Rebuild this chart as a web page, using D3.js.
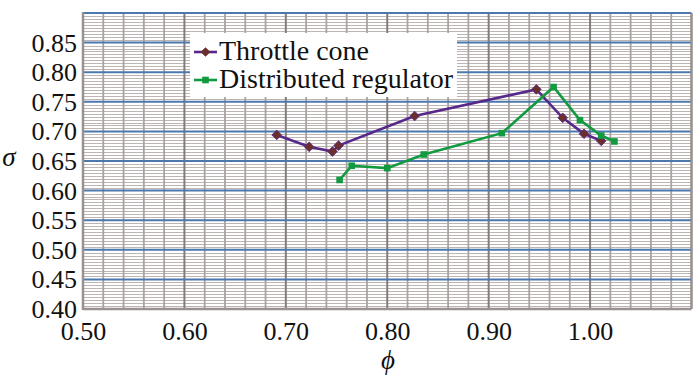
<!DOCTYPE html>
<html>
<head>
<meta charset="utf-8">
<script src="https://cdn.jsdelivr.net/npm/d3@7"></script>
<style>
  html, body { margin: 0; padding: 0; background: #fff; }
  svg { display: block; }
  svg text { font-family: "Liberation Serif", "Tinos", "Times New Roman", Times, "Nimbus Roman", "Nimbus Roman No9 L", "FreeSerif", "Noto Serif", "DejaVu Serif", serif; }
</style>
</head>
<body>
<svg id="chart" width="700" height="380"></svg>
<script>
// ---- data ----
const seriesNames = ["Throttle cone", "Distributed regulator"];
const phiThrottle   = [0.691, 0.723, 0.746, 0.752, 0.827, 0.947, 0.973, 0.994, 1.011];
const sigmaThrottle = [0.694, 0.674, 0.666, 0.676, 0.726, 0.771, 0.723, 0.696, 0.684];
const phiRegulator   = [0.753, 0.765, 0.800, 0.836, 0.913, 0.964, 0.990, 1.011, 1.024];
const sigmaRegulator = [0.618, 0.642, 0.638, 0.661, 0.697, 0.775, 0.719, 0.693, 0.683];
const xTicks = [0.50, 0.60, 0.70, 0.80, 0.90, 1.00];
const yTicks = [0.40, 0.45, 0.50, 0.55, 0.60, 0.65, 0.70, 0.75, 0.80, 0.85];

const svg = d3.select("#chart");
const L = 83, R = 691.5, T = 13, B = 309;
const x = d3.scaleLinear().domain([0.5, 1.1]).range([L, R]);
const y = d3.scaleLinear().domain([0.4, 0.9]).range([B, T]);

// ---- grid ----
const g = svg.append("g");
const hMinor = d3.range(0, 101).map(i => 0.4 + i * 0.005).filter((v, i) => i % 10 !== 0);
g.selectAll(".hmin").data(hMinor).join("line")
  .attr("x1", L).attr("x2", R)
  .attr("y1", d => Math.round(y(d)) + 0.5).attr("y2", d => Math.round(y(d)) + 0.5)
  .attr("stroke", "#bdb5b3").attr("stroke-width", 1.2);

const vMinor = d3.range(0, 31).map(i => 0.5 + i * 0.02).filter((v, i) => i % 5 !== 0);
g.selectAll(".vmin").data(vMinor).join("line")
  .attr("y1", T).attr("y2", B)
  .attr("x1", d => x(d)).attr("x2", d => x(d))
  .attr("stroke", "#aaa2a0").attr("stroke-width", 1.8);

const vMajor = d3.range(0, 7).map(i => 0.5 + i * 0.1);
g.selectAll(".vmaj").data(vMajor).join("line")
  .attr("y1", T).attr("y2", B)
  .attr("x1", d => x(d)).attr("x2", d => x(d))
  .attr("stroke", "#847c7a").attr("stroke-width", 2);

const hMajor = d3.range(1, 11).map(i => 0.4 + i * 0.05);
g.selectAll(".hmaj").data(hMajor).join("line")
  .attr("x1", L).attr("x2", R)
  .attr("y1", d => y(d)).attr("y2", d => y(d))
  .attr("stroke", "#4b79ad").attr("stroke-width", 2);

// plot frame (left, bottom, right)
g.append("line").attr("x1", L).attr("x2", L).attr("y1", T - 1).attr("y2", B + 1)
  .attr("stroke", "#9a9290").attr("stroke-width", 2.5);
g.append("line").attr("x1", L).attr("x2", R).attr("y1", B).attr("y2", B)
  .attr("stroke", "#9a9290").attr("stroke-width", 2.5);
g.append("line").attr("x1", R).attr("x2", R).attr("y1", T).attr("y2", B)
  .attr("stroke", "#9a9290").attr("stroke-width", 2);

// ---- axes ----
const xAxis = d3.axisBottom(x).tickValues(xTicks).tickFormat(d3.format(".2f")).tickSize(0).tickPadding(12);
const yAxis = d3.axisLeft(y).tickValues(yTicks).tickFormat(d3.format(".2f")).tickSize(0).tickPadding(5);

const xa = svg.append("g").attr("transform", `translate(0,${B})`).call(xAxis);
const ya = svg.append("g").attr("transform", `translate(${L - 1},0)`).call(yAxis);
[xa, ya].forEach(a => {
  a.select(".domain").remove();
  a.attr("font-family", null).attr("font-size", null);
  a.selectAll("text").style("font-size", "26px").attr("fill", "#111");
});
xa.selectAll("text").attr("dy", "0.74em");
ya.selectAll("text").attr("dy", "0.33em");

// axis titles
svg.append("text").attr("x", 9).attr("y", 166).attr("text-anchor", "middle")
  .style("font-style", "italic").style("font-size", "27px").attr("fill", "#111")
  .text("σ");
svg.append("text").attr("x", 388).attr("y", 369).attr("text-anchor", "middle")
  .style("font-style", "italic").style("font-size", "27px").attr("fill", "#111")
  .text("ϕ");

// ---- series ----
const throttle = phiThrottle.map((p, i) => [p, sigmaThrottle[i]]);
const regulator = phiRegulator.map((p, i) => [p, sigmaRegulator[i]]);
const line = d3.line().x(d => x(d[0])).y(d => y(d[1]));

const purple = "#57288a", maroon = "#6a2e2c", green = "#129a40";

svg.append("path").datum(throttle).attr("d", line)
  .attr("fill", "none").attr("stroke", purple).attr("stroke-width", 2.6);
svg.append("path").datum(regulator).attr("d", line)
  .attr("fill", "none").attr("stroke", green).attr("stroke-width", 2.6);

const diamond = d3.symbol().type(d3.symbolSquare2).size(60);
const square = d3.symbol().type(d3.symbolSquare2).size(56);

svg.selectAll(".dm").data(throttle).join("path")
  .attr("d", diamond)
  .attr("transform", d => `translate(${x(d[0])},${y(d[1])}) rotate(45)`)
  .attr("fill", maroon).attr("stroke", purple).attr("stroke-width", 0.8);
svg.selectAll(".sq").data(regulator).join("path")
  .attr("d", square)
  .attr("transform", d => `translate(${x(d[0])},${y(d[1])})`)
  .attr("fill", green);

// ---- legend ----
const lg = svg.append("g");
lg.append("rect").attr("x", 190).attr("y", 33).attr("width", 267).attr("height", 64).attr("fill", "#fff");
const items = [
  { name: seriesNames[0], color: purple, sym: diamond, fill: maroon, rot: 45, yy: 52 },
  { name: seriesNames[1], color: green, sym: square, fill: green, rot: 0, yy: 80 }
];
items.forEach(it => {
  lg.append("line").attr("x1", 194).attr("x2", 217).attr("y1", it.yy).attr("y2", it.yy)
    .attr("stroke", it.color).attr("stroke-width", 2.6);
  lg.append("path").attr("d", it.sym)
    .attr("transform", `translate(205.5,${it.yy}) rotate(${it.rot})`)
    .attr("fill", it.fill);
  lg.append("text").attr("x", 219).attr("y", it.yy + 8)
    .style("font-size", "28px").attr("fill", "#111")
    .text(it.name);
});
</script>
</body>
</html>
